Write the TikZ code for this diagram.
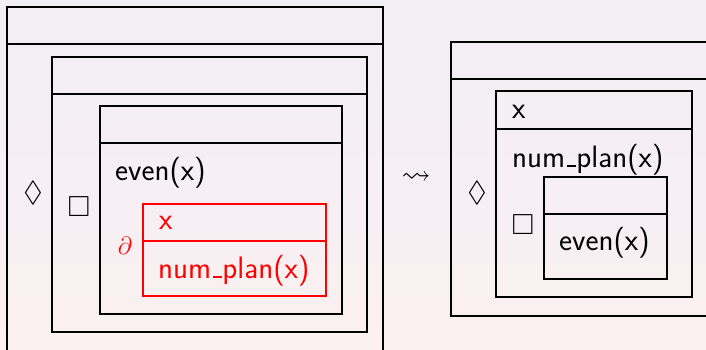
\documentclass[tikz,border=0pt]{standalone}
\usepackage{amssymb}
\definecolor{bgtop}{HTML}{F1EEF4}
\definecolor{bgbot}{HTML}{FBF0F2}
\newcommand\usc{\leavevmode\kern.06em\vbox{\hrule width.3em height.065em}}
\begin{document}
\begin{tikzpicture}[x=1pt,y=-1pt,
    box/.style={line width=1.3pt},
    lbl/.style={anchor=base west,inner sep=0pt,font=\fontsize{31}{37}\selectfont\sffamily},
    sym/.style={inner sep=0pt,font=\fontsize{29}{35}\selectfont}]
  \fill[top color=bgtop,bottom color=bgbot] (0,0) rectangle (706,350);
  \useasboundingbox (0,0) rectangle (706,350);
  \clip (0,0) rectangle (706,350);
  % left side
  \draw[box] (7,7) rectangle (383,370) (7,44) -- (383,44);
  \node[sym] (dia1) at (33,193) {$\lozenge$};
  \draw[box] (52,57) rectangle (367,332) (52,94) -- (367,94);
  \node[sym] (box1) at (79,207) {$\Box$};
  \draw[box] (100,106) rectangle (342,314) (100,143) -- (342,143);
  \node[lbl] (even1) at (115,180) {even(x)};
  \node[sym,red,font=\fontsize{34}{40}\selectfont] (part) at (125,246) {$\partial$};
  \draw[box,red] (143,204) rectangle (326,296) (143,241) -- (326,241);
  \node[lbl,red] (var1) at (159,229) {x};
  \node[lbl,red] (plan1) at (158,278) {num\usc plan(x)};
  % arrow
  \node[sym] (leads) at (416,178) {$\leadsto$};
  % right side
  \draw[box] (451,42) rectangle (720,316) (451,79) -- (720,79);
  \node[sym] (dia2) at (477,193) {$\lozenge$};
  \draw[box] (496,91) rectangle (692,297) (496,129) -- (692,129);
  \node[lbl] (var2) at (512,118) {x};
  \node[lbl] (plan2) at (512,167) {num\usc plan(x)};
  \node[sym] (box2) at (523,225) {$\Box$};
  \draw[box] (544,177) rectangle (667,279) (544,214) -- (667,214);
  \node[lbl] (even2) at (559,250) {even(x)};
\end{tikzpicture}
\end{document}
